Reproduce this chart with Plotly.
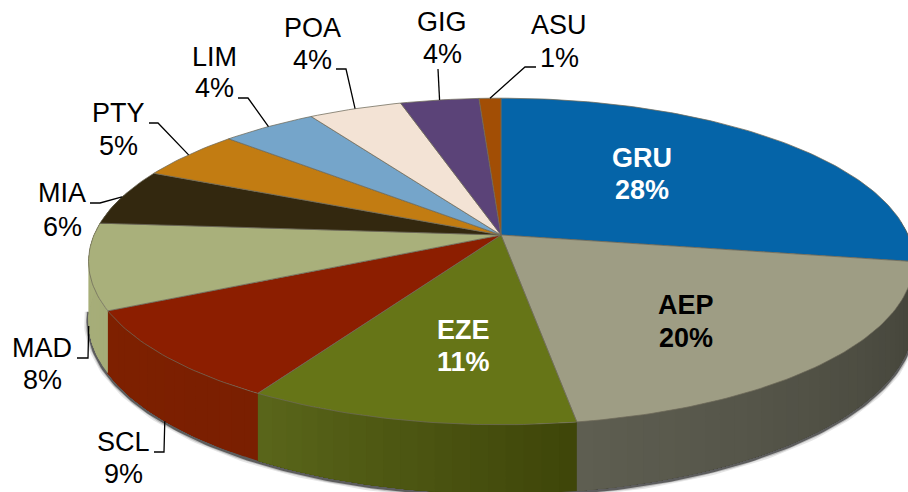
import numpy as np
import plotly.graph_objects as go

# ---- data ----
airports = ["GRU", "AEP", "EZE", "SCL", "MAD", "MIA", "PTY", "LIM", "POA", "GIG", "ASU"]
shares = [27.6, 19.9, 11.1, 9.1, 8.5, 5.6, 4.9, 4.4, 4.3, 3.6, 1.0]
top_colors = ["#0564A8", "#9E9D84", "#667517", "#8C1E00", "#A9B07B", "#33280F",
              "#C27C12", "#75A5CA", "#F3E3D5", "#5B4378", "#A24E05"]
side_from = ["#044a7c", "#5E5E51", "#5A661A", "#7E2000", "#A9B07B", "#2a210c",
             "#a06610", "#5f88a8", "#c9bbb0", "#4a3662", "#853f04"]
side_to = ["#033a62", "#424238", "#3E4509", "#7A1F01", "#A5AC78", "#2a210c",
           "#a06610", "#5f88a8", "#c9bbb0", "#4a3662", "#853f04"]

# ---- layout of the projected disc (pixels of the 908x492 page) ----
CX, CY, RX, RY, K, DEPTH = 501, 235, 407, 159, 0.162, 58
label_pos = {"GRU": (642, 158, 190), "AEP": (686, 305, 338), "EZE": (463, 330, 362),
             "SCL": (123, 442, 474), "MAD": (42, 348, 380), "MIA": (62, 193, 227),
             "PTY": (118, 113, 146), "LIM": (214, 57, 88), "POA": (312, 28, 60),
             "GIG": (442, 22, 54), "ASU": (559, 25, 58)}
leaders = {"SCL": [(154, 452), (164, 452)], "MAD": [(77, 358), (88, 358)],
           "MIA": [(90, 203), (100, 203)], "PTY": [(149, 123), (158, 123)],
           "LIM": [(238, 98), (248, 98)], "POA": [(336, 69), (346, 69)],
           "GIG": [(438, 69)], "ASU": [(536, 67), (525, 67)]}
on_side = {"SCL", "MAD"}
inside_white = {"GRU", "EZE"}


def project(theta, drop=0.0):
    u, v = np.sin(theta), np.cos(theta)
    s = 1.0 / (1.0 + K * v)
    return CX + RX * u * s, CY - RY * v * s + drop * DEPTH * s


def hex_mix(a, b, t):
    ca = [int(a[i:i + 2], 16) for i in (1, 3, 5)]
    cb = [int(b[i:i + 2], 16) for i in (1, 3, 5)]
    return "rgb(%d,%d,%d)" % tuple(round(p + (q - p) * t) for p, q in zip(ca, cb))


cum = np.concatenate([[0], np.cumsum(shares)]) / sum(shares) * 2 * np.pi
fig = go.Figure()


def add_poly(xs, ys, fill, line=None, width=0):
    fig.add_trace(go.Scatter(x=xs, y=ys, mode="lines", fill="toself", fillcolor=fill,
                             line=dict(color=line or fill, width=width),
                             hoverinfo="skip", showlegend=False))


# soft shadow under the rim
tt = np.radians(np.linspace(96, 264, 200))
for width, alpha, off in [(9, 0.10, 1), (6, 0.18, 1), (4, 0.5, 1)]:
    sx, sy = project(tt, 1.0)
    fig.add_trace(go.Scatter(x=sx, y=sy + off, mode="lines",
                             line=dict(color="rgba(0,0,0,%g)" % alpha, width=width),
                             hoverinfo="skip", showlegend=False))

# rim: each band runs to the slice's far end and the next one paints over it
for i in range(len(airports)):
    a0, a1 = cum[i], cum[i + 1]
    lo, hi = max(a0, np.radians(85)), min(a1, np.radians(285))
    if hi <= lo:
        continue
    n = max(1, int(np.degrees(hi - lo) / 2))
    edges = np.linspace(lo, hi, n + 1)
    for j in range(n):
        e = np.linspace(edges[j], hi, max(3, 3 * (n - j)))
        tx, ty = project(e, 0.0)
        bx, by = project(e[::-1], 1.0)
        t = 1 - (j + 0.5) / n
        add_poly(np.r_[tx, bx], np.r_[ty, by], hex_mix(side_from[i], side_to[i], t))

# top surface
for i in range(len(airports)):
    e = np.linspace(cum[i], cum[i + 1], max(3, int(np.degrees(cum[i + 1] - cum[i]))))
    x, y = project(e)
    add_poly(np.r_[CX, x, CX], np.r_[CY, y, CY], top_colors[i], "rgba(110,105,90,0.75)", 1)

# labels with leaders
annotations = []
for i, name in enumerate(airports):
    lx, ly1, ly2 = label_pos[name]
    inside = name not in leaders
    pct = "%d%%" % round(shares[i])
    color = "#FFFFFF" if name in inside_white else "#000000"
    for txt, ly in ((name, ly1), (pct, ly2)):
        annotations.append(dict(
            x=lx, y=ly, xref="x", yref="y", showarrow=False,
            text="<b>%s</b>" % txt if inside else txt,
            font=dict(family="Liberation Sans", size=27, color=color),
            xanchor="center", yanchor="middle"))
    if not inside:
        ex, ey = project((cum[i] + cum[i + 1]) / 2, 1.0 if name in on_side else 0.0)
        pts = leaders[name] + [(float(ex), float(ey))]
        fig.add_trace(go.Scatter(x=[p[0] for p in pts], y=[p[1] for p in pts], mode="lines",
                                 line=dict(color="#000000", width=1.3),
                                 hoverinfo="skip", showlegend=False))

fig.update_layout(
    width=908, height=492, margin=dict(l=0, r=0, t=0, b=0),
    paper_bgcolor="#FFFFFF", plot_bgcolor="#FFFFFF", showlegend=False,
    xaxis=dict(range=[0, 908], visible=False, fixedrange=True),
    yaxis=dict(range=[492, 0], visible=False, fixedrange=True),
    annotations=annotations)
fig.write_html("out.html", config={"displayModeBar": False},
               post_script="document.body.style.margin='0';document.body.style.overflow='hidden';")
